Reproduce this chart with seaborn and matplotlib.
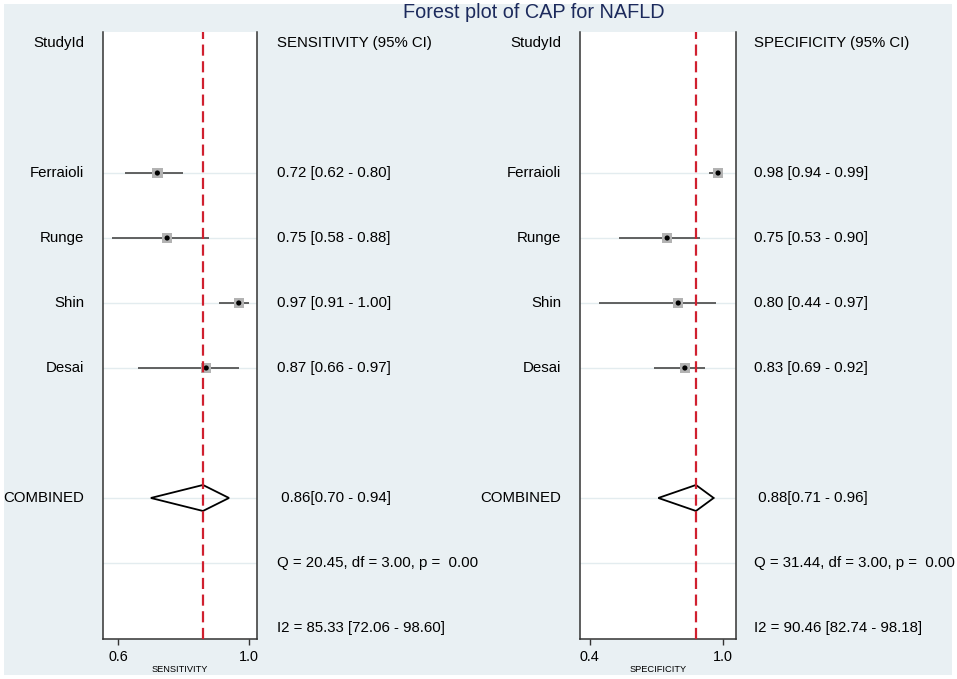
import matplotlib
matplotlib.use("Agg")
import matplotlib.pyplot as plt
import matplotlib.transforms as mtransforms
from matplotlib.patches import Rectangle, Polygon
import seaborn as sns
import pandas as pd

# ---------------- data ----------------
studies = ["Ferraioli", "Runge", "Shin", "Desai"]
sens = [0.72, 0.75, 0.97, 0.87]
sens_lo = [0.62, 0.58, 0.91, 0.66]
sens_hi = [0.80, 0.88, 1.00, 0.97]
spec = [0.98, 0.75, 0.80, 0.83]
spec_lo = [0.94, 0.53, 0.44, 0.69]
spec_hi = [0.99, 0.90, 0.97, 0.92]
sens_comb = [0.86, 0.70, 0.94]
spec_comb = [0.88, 0.71, 0.96]
sens_q = "Q = 20.45, df = 3.00, p =  0.00"
spec_q = "Q = 31.44, df = 3.00, p =  0.00"
sens_i2 = "I2 = 85.33 [72.06 - 98.60]"
spec_i2 = "I2 = 90.46 [82.74 - 98.18]"
sens_ticks = [0.6, 1.0]
spec_ticks = [0.4, 1.0]
sens_ticklabels = ["0.6", "1.0"]
spec_ticklabels = ["0.4", "1.0"]
title = "Forest plot of CAP for NAFLD"

# ---------------- style ----------------
sns.set_theme(style="white")
plt.rcParams["font.family"] = ["Liberation Sans", "DejaVu Sans"]
plt.rcParams["text.color"] = "black"
plt.rcParams["axes.labelcolor"] = "black"
plt.rcParams["xtick.color"] = "black"
plt.rcParams["xtick.labelcolor"] = "black"

W, H = 957, 679
fig = plt.figure(figsize=(W / 100, H / 100), dpi=100)
fig.patch.set_facecolor("white")
bg = Rectangle((4 / W, 4 / H), (952 - 4) / W, (675 - 4) / H,
               transform=fig.transFigure, facecolor="#e9f0f3",
               edgecolor="none", zorder=-10)
fig.patches.append(bg)

fig.text(534 / W, 1 - 12 / H, title, ha="center", va="center",
         fontsize=14.3, color="#1c2a5c")

study_rows = [1, 2, 3, 4]
comb_row, q_row, i2_row, head_row = 6, 7, 8, -1
FS = 10.8


def panel(ax_rect, xlim, est, lo, hi, comb, qtxt, i2txt, ticks, ticklabels,
          xlabel, header, name_x, val_x):
    ax = fig.add_axes(ax_rect)
    ax.set_facecolor("white")
    df = pd.DataFrame({"study": studies, "est": est, "lo": lo, "hi": hi,
                       "row": study_rows})
    # gridlines
    for r in study_rows + [comb_row, q_row]:
        ax.axhline(r, color="#e3ecef", lw=1.0, zorder=0)
    # CI lines
    ax.hlines(df["row"], df["lo"], df["hi"], color="#555555", lw=1.3, zorder=2)
    sns.scatterplot(data=df, x="est", y="row", marker="s", s=55,
                    color="#b3b3b3", edgecolor="none", ax=ax, zorder=3,
                    legend=False)
    sns.scatterplot(data=df, x="est", y="row", marker="o", s=14,
                    color="black", edgecolor="none", ax=ax, zorder=4,
                    legend=False)
    # combined diamond
    c, clo, chi = comb
    h = 0.2
    dia = Polygon([(clo, comb_row), (c, comb_row - h), (chi, comb_row),
                   (c, comb_row + h)], closed=True, fill=False,
                  edgecolor="black", lw=1.3, zorder=5)
    ax.add_patch(dia)
    ax.axvline(c, color="#d0202f", lw=1.6, ls=(0, (5, 2.5)), zorder=6)

    ax.set_xlim(*xlim)
    ax.set_ylim(8.17, -1.17)
    ax.set_yticks([])
    ax.set_xticks(ticks)
    ax.set_xticklabels(ticklabels)
    ax.tick_params(axis="x", direction="out", length=4, width=1.0,
                   color="#333333", labelcolor="black", labelsize=10.4,
                   pad=4, bottom=True)
    ax.set_xlabel(xlabel, fontsize=6.7, labelpad=1, color="black")
    ax.set_ylabel("")
    for s in ["left", "right", "bottom"]:
        ax.spines[s].set_visible(True)
        ax.spines[s].set_color("#333333")
        ax.spines[s].set_linewidth(1.1)
    ax.spines["top"].set_visible(False)

    tr = mtransforms.blended_transform_factory(fig.transFigure, ax.transData)
    kw = dict(transform=tr, va="center", fontsize=FS, clip_on=False,
              color="black")
    ax.text(name_x, head_row, "StudyId", ha="right", **kw)
    ax.text(val_x, head_row, header, ha="left", **kw)
    for r, nm, e, l, u in zip(study_rows, studies, est, lo, hi):
        ax.text(name_x, r, nm, ha="right", **kw)
        ax.text(val_x, r, f"{e:.2f} [{l:.2f} - {u:.2f}]", ha="left", **kw)
    ax.text(name_x, comb_row, "COMBINED", ha="right", **kw)
    ax.text(val_x, comb_row, f" {c:.2f}[{clo:.2f} - {chi:.2f}]",
            ha="left", **kw)
    ax.text(val_x, q_row, qtxt, ha="left", **kw)
    ax.text(val_x, i2_row, i2txt, ha="left", **kw)
    return ax


bottom = 1 - 639 / H
top = 1 - 32 / H
panel([103 / W, bottom, (257 - 103) / W, top - bottom], (0.553, 1.026),
      sens, sens_lo, sens_hi, sens_comb, sens_q, sens_i2, sens_ticks,
      sens_ticklabels, "SENSITIVITY", "SENSITIVITY (95% CI)",
      84 / W, 277 / W)
panel([580 / W, bottom, (736 - 580) / W, top - bottom], (0.356, 1.061),
      spec, spec_lo, spec_hi, spec_comb, spec_q, spec_i2, spec_ticks,
      spec_ticklabels, "SPECIFICITY", "SPECIFICITY (95% CI)",
      561 / W, 754 / W)

fig.savefig("out.png", dpi=100, facecolor=fig.get_facecolor())
